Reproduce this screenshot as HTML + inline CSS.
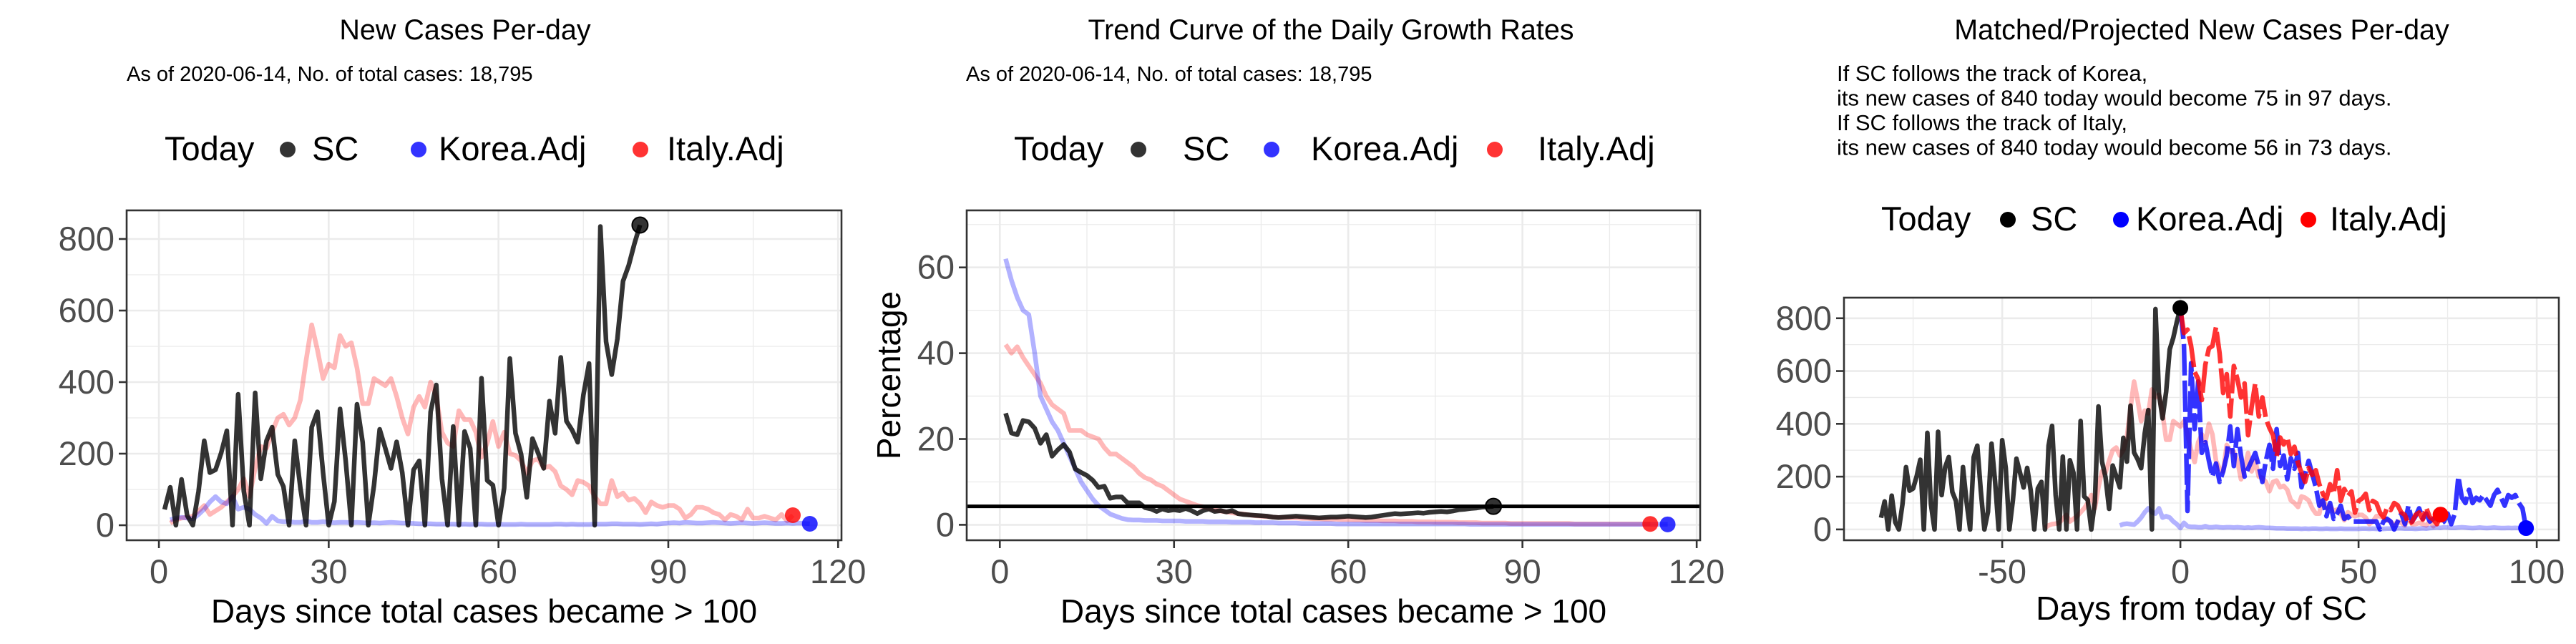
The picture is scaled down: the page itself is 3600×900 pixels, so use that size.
<!DOCTYPE html>
<html><head><meta charset="utf-8">
<style>
html,body{margin:0;padding:0;background:#fff;}
svg{display:block;font-family:"Liberation Sans",Arial,sans-serif;}
</style></head>
<body>
<svg id="chart" width="3600" height="900" viewBox="0 0 3600 900" xmlns="http://www.w3.org/2000/svg">
<rect width="3600" height="900" fill="#fff"/>
</svg>
<script>
// ---------- DATA ----------
const scDaily = [44,106,0,128,27,0,95,236,147,155,202,264,0,366,95,0,370,130,236,274,142,108,0,236,104,0,274,317,147,0,66,325,180,0,338,232,0,112,268,215,159,233,147,0,155,180,0,317,392,130,0,276,0,262,215,0,411,125,112,0,104,466,257,198,78,242,202,159,347,257,469,291,266,232,364,452,0,835,513,421,521,682,726,786,839];
const italyDaily = [6,15,20,22,25,40,55,30,40,50,65,80,100,130,80,160,220,215,260,300,310,280,300,350,460,560,490,410,450,440,530,500,510,440,340,340,410,400,390,410,360,300,255,330,360,330,400,360,260,230,220,320,295,295,260,190,230,290,220,260,200,195,180,145,180,185,160,165,150,110,100,85,125,120,110,80,60,60,125,80,90,70,75,60,35,65,55,50,55,55,45,20,30,50,50,45,35,30,15,30,25,15,45,20,20,25,20,15,30,12,28];
const koreaDaily = [15,20,22,20,18,30,45,65,80,65,60,80,45,50,45,30,20,5,25,12,10,10,8,8,12,8,8,10,8,7,8,8,7,8,7,6,7,6,7,8,7,6,6,5,4,4,4,3,3,3,3,2,3,2,3,3,2,2,3,2,2,2,3,2,2,2,2,2,3,3,2,3,2,2,2,3,3,3,4,4,3,3,3,2,3,4,3,5,6,7,6,8,7,6,6,7,8,7,6,5,6,7,6,5,6,7,6,5,5,6,5,6,5,4];
const scPct = [26,21.4,21,24.3,24,22.5,19,21,16,17.5,18.7,17,13,12.2,11.5,10.4,8.7,9,6.2,6.5,6.5,5.1,5.1,5.1,4,3.7,3.1,3.7,3.3,3.5,3.3,3.8,3.3,2.6,3.3,3.7,3.1,3.3,3,3.3,2.6,2.4,2.3,2.2,2.1,2.0,1.8,1.7,1.8,1.9,2.0,1.9,1.8,1.7,1.6,1.7,1.8,1.8,1.9,2.0,1.9,1.8,1.7,1.8,2.0,2.2,2.4,2.6,2.5,2.6,2.7,2.8,2.7,2.9,3.0,3.1,3.0,3.2,3.5,3.6,3.8,3.9,4.1,4.2,4.3];
const koreaPct = [62,57,53,50,49,40,30,27,24,22,19,16,13,10,8,6,4.5,3.5,2.5,2,1.5,1.2,1.1,1.1,1.0,1.0,1.0,0.9,0.9,0.9,0.9,0.8,0.8,0.8,0.8,0.7,0.7,0.7,0.7,0.6,0.6,0.6,0.6,0.5,0.5,0.5,0.5,0.4,0.4,0.4,0.4,0.3,0.3,0.3,0.3,0.3,0.3,0.2,0.2,0.2,0.2,0.2,0.2,0.2,0.2,0.2,0.2,0.2,0.2,0.2,0.2,0.2,0.2,0.2,0.2,0.2,0.2,0.2,0.2,0.2,0.1,0.1,0.1,0.1,0.1,0.1,0.1,0.1,0.1,0.1,0.1,0.1,0.1,0.1,0.1,0.1,0.1,0.1,0.1,0.1,0.1,0.1,0.1,0.1,0.1,0.1,0.1,0.1,0.1,0.1,0.1,0.1,0.1,0.1,0.1];
const italyPct = [42,40,41.5,39,37,35,33,30,28,27,26,22,22,22,21,20.5,20,18,16.5,16.5,15.5,14.5,13.5,12,11,10.5,9.5,9,8,7,6,5.5,5,4.5,4.2,3.8,3.5,3.2,3,2.8,2.6,2.5,2.3,2.1,2.0,1.9,1.8,1.7,1.7,1.6,1.6,1.5,1.5,1.4,1.4,1.3,1.3,1.3,1.2,1.2,1.1,1.1,1.0,1.0,1.0,0.9,0.9,0.9,0.8,0.8,0.8,0.7,0.7,0.7,0.6,0.6,0.6,0.6,0.5,0.5,0.5,0.5,0.4,0.4,0.4,0.4,0.4,0.3,0.3,0.3,0.3,0.3,0.3,0.3,0.3,0.3,0.3,0.3,0.2,0.2,0.2,0.2,0.2,0.2,0.2,0.2,0.2,0.2,0.2,0.2,0.2,0.2];
const thresholdPct = 4.3;
const italyProjected = [837,744,757,695,597,570,490,624,686,695,766,668,517,588,428,619,570,500,553,357,464,553,428,500,420,384,357,277,348,322,348,286,313,251,215,180,233,206,224,171,135,117,171,135,224,108,153,126,144,64,108,117,135,73,108,100,64,46,82,73,100,91,64,55,20,28,55,64,37,82,46,37,20,56];
const koreaProjected = [840,700,70,630,380,560,290,330,260,200,250,180,220,280,390,240,380,280,200,230,260,290,240,180,260,320,230,380,240,280,190,270,230,290,160,210,260,210,160,90,110,50,100,40,60,90,40,50,30,30,30,30,30,30,30,30,0,30,40,30,0,30,60,20,90,30,50,80,40,60,30,40,50,20,30,60,20,60,200,120,100,150,100,120,110,130,110,90,130,150,120,90,130,120,130,100,80,5];
const xTicks1 = [0,30,60,90,120];
const yTicks1 = [0,200,400,600,800];
const yTicks2 = [0,20,40,60];
const xTicks3 = [-50,0,50,100];
const yTicks3 = [0,200,400,600,800];

// ---------- HELPERS ----------
const NS = "http://www.w3.org/2000/svg";
const svg = document.getElementById('chart');
function mk(tag, attrs, parent){
  const e = document.createElementNS(NS, tag);
  for (const k in attrs) e.setAttribute(k, attrs[k]);
  (parent||svg).appendChild(e);
  return e;
}
function txt(s, attrs, parent){ const e = mk('text', attrs, parent); e.textContent = s; return e; }

function makePanel(p){
  const g = mk('g', {});
  
  
  const sx = v => p.x0 + (v - p.xmin) / (p.xmax - p.xmin) * (p.x1 - p.x0);
  const sy = v => p.y1 - (v - p.ymin) / (p.ymax - p.ymin) * (p.y1 - p.y0);
  const grid = mk('g', {}, g);
  
  
  p.xMinor.forEach(v => mk('line', {x1:sx(v),x2:sx(v),y1:p.y0,y2:p.y1,stroke:'#ebebeb','stroke-width':1.3}, grid));
  p.yMinor.forEach(v => mk('line', {x1:p.x0,x2:p.x1,y1:sy(v),y2:sy(v),stroke:'#ebebeb','stroke-width':1.3}, grid));
  p.xTicks.forEach(v => mk('line', {x1:sx(v),x2:sx(v),y1:p.y0,y2:p.y1,stroke:'#ebebeb','stroke-width':2.6}, grid));
  p.yTicks.forEach(v => mk('line', {x1:p.x0,x2:p.x1,y1:sy(v),y2:sy(v),stroke:'#ebebeb','stroke-width':2.6}, grid));
  const cid = 'clip-' + p.name;
  const cp = mk('clipPath', {id: cid}, g);
  mk('rect', {x:p.x0,y:p.y0,width:p.x1-p.x0,height:p.y1-p.y0}, cp);
  const marks = mk('g', {'clip-path':'url(#'+cid+')'}, g);
  p.series.forEach(s => {
    const pts = s.values.map((v,i) => sx(s.start + i).toFixed(1) + ',' + sy(v).toFixed(1)).join(' ');
    const pl = mk('polyline', {points:pts, fill:'none', stroke:s.color, 'stroke-width':s.w||6.5, 'stroke-linejoin':'round', 'stroke-linecap':'butt'}, marks);
    if (s.dash) pl.setAttribute('stroke-dasharray', s.dash);
    
    
  });
  if (p.hline !== undefined){
    const hl = mk('line', {x1:p.x0,x2:p.x1,y1:sy(p.hline),y2:sy(p.hline),stroke:'#000','stroke-width':5}, marks);
    
    
  }
  p.dots.forEach(d => {
    const c = mk('circle', {cx:sx(d.x), cy:sy(d.y), r:11, fill:d.color, stroke:d.stroke||'none','stroke-width':2}, marks);
    
    
  });
  const border = mk('rect', {x:p.x0,y:p.y0,width:p.x1-p.x0,height:p.y1-p.y0,fill:'none',stroke:'#333','stroke-width':2.6}, g);
  
  
  p.xTicks.forEach(v => {
    mk('line', {x1:sx(v),x2:sx(v),y1:p.y1,y2:p.y1+11,stroke:'#333','stroke-width':2.6}, g);
    const t = txt(String(v), {x:sx(v), y:p.y1+60, 'font-size':47, fill:'#4d4d4d', 'text-anchor':'middle'}, g);
    
    
  });
  p.yTicks.forEach(v => {
    mk('line', {x1:p.x0-11,x2:p.x0,y1:sy(v),y2:sy(v),stroke:'#333','stroke-width':2.6}, g);
    const t = txt(String(v), {x:p.x0-17, y:sy(v)+16, 'font-size':47, fill:'#4d4d4d', 'text-anchor':'end'}, g);
    
    
  });
  const xt = txt(p.xTitle, {x:(p.x0+p.x1)/2 + (p.xTitleDx||0), y:p.xTitleY, 'font-size':46, fill:'#000', 'text-anchor':'middle'}, g);
  
  
  if (p.yTitle){
    const yt = txt(p.yTitle, {x:0, y:0, 'font-size':46, fill:'#000', 'text-anchor':'middle', transform:'translate(1258,'+((p.y0+p.y1)/2)+') rotate(-90)'}, g);
    
    
  }
  return g;
}

function legend(items, y){
  const g = mk('g', {});
  
  
  items.forEach(it => {
    if (it.dot){
      const c = mk('circle', {cx:it.x, cy:y-15, r:11, fill:it.color}, g);
      
      
    } else {
      const t = txt(it.label, {x:it.x, y:y, 'font-size':47, fill:'#000'}, g);
      
      
    }
  });
}
function head(title, cx, lines, lx, ly0, dy, fs){
  const t = txt(title, {x:cx, y:55, 'font-size':39.5, fill:'#000', 'text-anchor':'middle'});
  
  
  lines.forEach((s,i) => {
    const e = txt(s, {x:lx, y:ly0 + i*dy, 'font-size':fs, fill:'#000'});
    
    
  });
}
function legendItems(xs, colors){
  return [
    {label:'Today', x:xs[0], key:'today'},
    {dot:true, x:xs[1], color:colors[0], key:'sc'},
    {label:'SC', x:xs[2], key:'sc'},
    {dot:true, x:xs[3], color:colors[1], key:'korea'},
    {label:'Korea.Adj', x:xs[4], key:'korea'},
    {dot:true, x:xs[5], color:colors[2], key:'italy'},
    {label:'Italy.Adj', x:xs[6], key:'italy'}
  ];
}

// ---------- PANEL 1 ----------
const PINK = 'rgba(255,0,0,0.28)', LBLUE = 'rgba(0,0,255,0.3)', DARK = 'rgba(0,0,0,0.8)';
head('New Cases Per-day', 650, ['As of 2020-06-14, No. of total cases: 18,795'], 177, 113, 0, 29);
legend(legendItems([230,402,436,585,613,895,932], ['rgba(0,0,0,0.8)','rgba(0,0,255,0.8)','rgba(255,0,0,0.8)']), 224);
makePanel({name:'new-cases-panel', x0:177, x1:1176, y0:294, y1:755, xmin:-5.7, xmax:120.6, ymin:-42, ymax:880,
  xTicks:xTicks1, yTicks:yTicks1, xMinor:[15,45,75,105], yMinor:[100,300,500,700],
  series:[
    {name:'italy-adj', values:italyDaily, start:2, color:PINK},
    {name:'korea-adj', values:koreaDaily, start:2, color:LBLUE},
    {name:'sc', values:scDaily, start:1, color:DARK}
  ],
  dots:[
    {name:'sc', x:scDaily.length, y:scDaily[scDaily.length-1], color:DARK, stroke:'#000'},
    {name:'italy', x:italyDaily.length+1, y:italyDaily[italyDaily.length-1], color:'rgba(255,0,0,0.8)'},
    {name:'korea', x:koreaDaily.length+1, y:koreaDaily[koreaDaily.length-1], color:'rgba(0,0,255,0.8)'}
  ],
  xTitle:'Days since total cases became > 100', xTitleY:870});

// ---------- PANEL 2 ----------
head('Trend Curve of the Daily Growth Rates', 1860, ['As of 2020-06-14, No. of total cases: 18,795'], 1350, 113, 0, 29);
legend(legendItems([1417,1591,1653,1777,1832,2089,2149], ['rgba(0,0,0,0.8)','rgba(0,0,255,0.8)','rgba(255,0,0,0.8)']), 224);
makePanel({name:'growth-rate-panel', x0:1351, x1:2376, y0:294, y1:755, xmin:-5.7, xmax:120.6, ymin:-3.6, ymax:73.3,
  xTicks:xTicks1, yTicks:yTicks2, xMinor:[15,45,75,105], yMinor:[10,30,50,70],
  series:[
    {name:'italy-adj', values:italyPct, start:1, color:PINK},
    {name:'korea-adj', values:koreaPct, start:1, color:LBLUE},
    {name:'sc', values:scPct, start:1, color:DARK}
  ],
  hline:thresholdPct,
  dots:[
    {name:'sc', x:scPct.length, y:scPct[scPct.length-1], color:DARK, stroke:'#000'},
    {name:'italy', x:italyPct.length, y:italyPct[italyPct.length-1], color:'rgba(255,0,0,0.8)'},
    {name:'korea', x:koreaPct.length, y:koreaPct[koreaPct.length-1], color:'rgba(0,0,255,0.8)'}
  ],
  xTitle:'Days since total cases became > 100', xTitleY:870, yTitle:'Percentage'});

// ---------- PANEL 3 ----------
head('Matched/Projected New Cases Per-day', 3077, [
  'If SC follows the track of Korea,',
  'its new cases of 840 today would become 75 in 97 days.',
  'If SC follows the track of Italy,',
  'its new cases of 840 today would become 56 in 73 days.'], 2567, 113, 34.5, 31);
legend(legendItems([2629,2806,2838,2964,2985,3226,3256], ['#000','#00f','#f00']), 322);
makePanel({name:'projected-panel', x0:2577, x1:3576, y0:416, y1:755, xmin:-94.4, xmax:106.2, ymin:-41, ymax:878,
  xTicks:xTicks3, yTicks:yTicks3, xMinor:[-75,-25,25,75], yMinor:[100,300,500,700],
  series:[
    {name:'italy-matched', values:italyDaily, start:-38, color:PINK},
    {name:'korea-matched', values:koreaDaily, start:-17, color:LBLUE},
    {name:'sc', values:scDaily, start:-84, color:DARK},
    {name:'korea-projected', values:koreaProjected, start:0, color:'rgba(0,0,255,0.8)', dash:'44 7'},
    {name:'italy-projected', values:italyProjected, start:0, color:'rgba(255,0,0,0.8)', dash:'44 7'}
  ],
  dots:[
    {name:'sc', x:0, y:scDaily[scDaily.length-1], color:'#000'},
    {name:'italy', x:italyProjected.length-1, y:italyProjected[italyProjected.length-1], color:'#f00'},
    {name:'korea', x:koreaProjected.length-1, y:koreaProjected[koreaProjected.length-1], color:'#00f'}
  ],
  xTitle:'Days from today of SC', xTitleY:866});
</script>
</body></html>
